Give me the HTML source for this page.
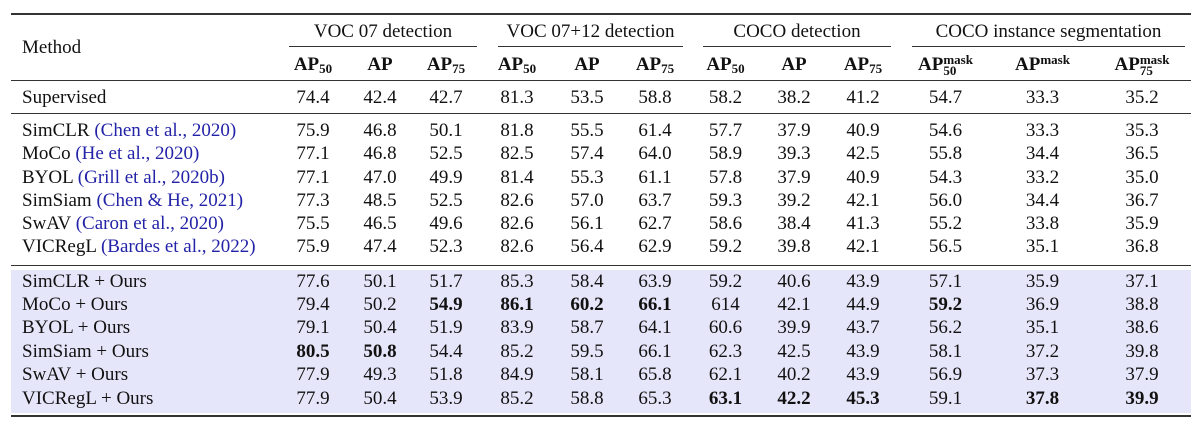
<!DOCTYPE html>
<html><head><meta charset="utf-8"><style>
body{margin:0;width:1199px;height:426px;background:#fff;position:relative;overflow:hidden;font-family:"Liberation Serif",serif;font-size:19px;color:#111}
.r{position:absolute;left:0;height:24px;line-height:24px;display:flex;white-space:nowrap}
.r>span{text-align:center;display:block}
.r>span:nth-child(1){width:256px;text-align:left;padding-left:22px}
.r>span:nth-child(2){width:70px}.r>span:nth-child(3){width:64px}.r>span:nth-child(4){width:68px}
.r>span:nth-child(5){width:74px}.r>span:nth-child(6){width:66px}.r>span:nth-child(7){width:70px}
.r>span:nth-child(8){width:71px}.r>span:nth-child(9){width:66px}.r>span:nth-child(10){width:72px}
.r>span:nth-child(11){width:93px}.r>span:nth-child(12){width:101px}.r>span:nth-child(13){width:98px}
.h>span{font-weight:bold;font-size:19px}
.h sub{font-size:13px;vertical-align:-3px;line-height:0}
.h sup{font-size:13px;line-height:0;vertical-align:6px}
.st{display:inline-block;vertical-align:-5px;line-height:11px;font-size:13px;text-align:left}
.c{color:#2323a8;font-style:normal}
b{font-weight:bold}
.line{position:absolute;left:11px;width:1180px;background:#333}
.cm{position:absolute;top:46px;height:1px;background:#333}
.g{position:absolute;top:20px;text-align:center;line-height:24px}
</style></head><body>
<div style="position:absolute;left:11px;top:270px;width:1180px;height:143px;background:#e6e6fa"></div>
<div class="line" style="top:13px;height:2px"></div>
<div class="line" style="top:80px;height:1px"></div>
<div class="line" style="top:113px;height:1px"></div>
<div class="line" style="top:265px;height:1px"></div>
<div class="line" style="top:415px;height:2px"></div>
<div class="cm" style="left:289px;width:188px"></div>
<div class="cm" style="left:498px;width:185px"></div>
<div class="cm" style="left:703px;width:188px"></div>
<div class="cm" style="left:912px;width:273px"></div>
<div class="g" style="left:289px;width:188px">VOC 07 detection</div>
<div class="g" style="left:498px;width:185px">VOC 07+12 detection</div>
<div class="g" style="left:703px;width:188px">COCO detection</div>
<div class="g" style="left:912px;width:273px">COCO instance segmentation</div>
<div style="position:absolute;left:22px;top:36px;line-height:24px">Method</div>
<div class="r h" style="top:53px"><span></span><span>AP<sub>50</sub></span><span>AP</span><span>AP<sub>75</sub></span><span>AP<sub>50</sub></span><span>AP</span><span>AP<sub>75</sub></span><span>AP<sub>50</sub></span><span>AP</span><span>AP<sub>75</sub></span><span>AP<span class="st">mask<br>50</span></span><span>AP<sup>mask</sup></span><span>AP<span class="st">mask<br>75</span></span></div>
<div class="r" style="top:86px"><span>Supervised</span><span>74.4</span><span>42.4</span><span>42.7</span><span>81.3</span><span>53.5</span><span>58.8</span><span>58.2</span><span>38.2</span><span>41.2</span><span>54.7</span><span>33.3</span><span>35.2</span></div>
<div class="r" style="top:119px"><span>SimCLR <i class="c">(Chen et al., 2020)</i></span><span>75.9</span><span>46.8</span><span>50.1</span><span>81.8</span><span>55.5</span><span>61.4</span><span>57.7</span><span>37.9</span><span>40.9</span><span>54.6</span><span>33.3</span><span>35.3</span></div>
<div class="r" style="top:142px"><span>MoCo <i class="c">(He et al., 2020)</i></span><span>77.1</span><span>46.8</span><span>52.5</span><span>82.5</span><span>57.4</span><span>64.0</span><span>58.9</span><span>39.3</span><span>42.5</span><span>55.8</span><span>34.4</span><span>36.5</span></div>
<div class="r" style="top:166px"><span>BYOL <i class="c">(Grill et al., 2020b)</i></span><span>77.1</span><span>47.0</span><span>49.9</span><span>81.4</span><span>55.3</span><span>61.1</span><span>57.8</span><span>37.9</span><span>40.9</span><span>54.3</span><span>33.2</span><span>35.0</span></div>
<div class="r" style="top:189px"><span>SimSiam <i class="c">(Chen &amp; He, 2021)</i></span><span>77.3</span><span>48.5</span><span>52.5</span><span>82.6</span><span>57.0</span><span>63.7</span><span>59.3</span><span>39.2</span><span>42.1</span><span>56.0</span><span>34.4</span><span>36.7</span></div>
<div class="r" style="top:212px"><span>SwAV <i class="c">(Caron et al., 2020)</i></span><span>75.5</span><span>46.5</span><span>49.6</span><span>82.6</span><span>56.1</span><span>62.7</span><span>58.6</span><span>38.4</span><span>41.3</span><span>55.2</span><span>33.8</span><span>35.9</span></div>
<div class="r" style="top:235px"><span>VICRegL <i class="c">(Bardes et al., 2022)</i></span><span>75.9</span><span>47.4</span><span>52.3</span><span>82.6</span><span>56.4</span><span>62.9</span><span>59.2</span><span>39.8</span><span>42.1</span><span>56.5</span><span>35.1</span><span>36.8</span></div>
<div class="r" style="top:270px"><span>SimCLR + Ours</span><span>77.6</span><span>50.1</span><span>51.7</span><span>85.3</span><span>58.4</span><span>63.9</span><span>59.2</span><span>40.6</span><span>43.9</span><span>57.1</span><span>35.9</span><span>37.1</span></div>
<div class="r" style="top:293px"><span>MoCo + Ours</span><span>79.4</span><span>50.2</span><span><b>54.9</b></span><span><b>86.1</b></span><span><b>60.2</b></span><span><b>66.1</b></span><span>614</span><span>42.1</span><span>44.9</span><span><b>59.2</b></span><span>36.9</span><span>38.8</span></div>
<div class="r" style="top:316px"><span>BYOL + Ours</span><span>79.1</span><span>50.4</span><span>51.9</span><span>83.9</span><span>58.7</span><span>64.1</span><span>60.6</span><span>39.9</span><span>43.7</span><span>56.2</span><span>35.1</span><span>38.6</span></div>
<div class="r" style="top:340px"><span>SimSiam + Ours</span><span><b>80.5</b></span><span><b>50.8</b></span><span>54.4</span><span>85.2</span><span>59.5</span><span>66.1</span><span>62.3</span><span>42.5</span><span>43.9</span><span>58.1</span><span>37.2</span><span>39.8</span></div>
<div class="r" style="top:363px"><span>SwAV + Ours</span><span>77.9</span><span>49.3</span><span>51.8</span><span>84.9</span><span>58.1</span><span>65.8</span><span>62.1</span><span>40.2</span><span>43.9</span><span>56.9</span><span>37.3</span><span>37.9</span></div>
<div class="r" style="top:387px"><span>VICRegL + Ours</span><span>77.9</span><span>50.4</span><span>53.9</span><span>85.2</span><span>58.8</span><span>65.3</span><span><b>63.1</b></span><span><b>42.2</b></span><span><b>45.3</b></span><span>59.1</span><span><b>37.8</b></span><span><b>39.9</b></span></div>
</body></html>
